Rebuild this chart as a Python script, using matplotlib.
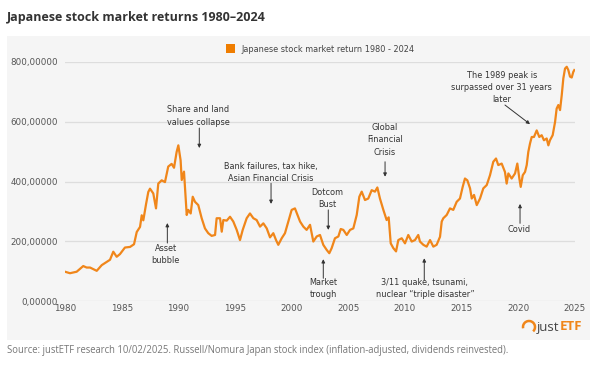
import matplotlib.pyplot as plt
import matplotlib.patches as mpatches
from matplotlib.ticker import FuncFormatter

# Japanese stock market returns
years = [1980.00, 1980.44, 1981.03, 1981.61, 1981.91, 1982.21, 1982.80, 1983.24, 1983.68, 1983.97,
         1984.26, 1984.56, 1984.85, 1985.29, 1985.74, 1986.09, 1986.33, 1986.62, 1986.77, 1986.91,
         1987.15, 1987.35, 1987.50, 1987.79, 1988.03, 1988.23, 1988.53, 1988.82, 1989.11, 1989.41,
         1989.62, 1989.85, 1990.00, 1990.20, 1990.30, 1990.50, 1990.74, 1990.88, 1991.09, 1991.27,
         1991.47, 1991.76, 1992.06, 1992.35, 1992.64, 1992.94, 1993.24, 1993.38, 1993.68, 1993.83,
         1993.97, 1994.27, 1994.56, 1994.85, 1995.15, 1995.44, 1995.68, 1996.03, 1996.32, 1996.62,
         1996.91, 1997.21, 1997.50, 1997.80, 1998.09, 1998.38, 1998.62, 1998.82, 1999.12, 1999.41,
         1999.70, 2000.00, 2000.29, 2000.74, 2001.03, 2001.32, 2001.62, 2001.91, 2002.21, 2002.50,
         2002.79, 2003.09, 2003.32, 2003.53, 2003.82, 2004.12, 2004.33, 2004.56, 2004.86, 2005.15,
         2005.44, 2005.74, 2005.97, 2006.18, 2006.47, 2006.76, 2007.06, 2007.35, 2007.56, 2007.79,
         2008.09, 2008.38, 2008.56, 2008.74, 2008.97, 2009.21, 2009.41, 2009.71, 2010.00, 2010.29,
         2010.59, 2010.88, 2011.17, 2011.32, 2011.62, 2011.91, 2012.21, 2012.50, 2012.79, 2013.09,
         2013.24, 2013.38, 2013.68, 2013.97, 2014.26, 2014.56, 2014.85, 2015.09, 2015.29, 2015.50,
         2015.74, 2015.89, 2016.09, 2016.33, 2016.62, 2016.91, 2017.21, 2017.50, 2017.79, 2018.03,
         2018.23, 2018.53, 2018.82, 2018.97, 2019.12, 2019.41, 2019.71, 2019.91, 2020.09, 2020.21,
         2020.39, 2020.59, 2020.74, 2020.88, 2021.03, 2021.18, 2021.38, 2021.62, 2021.85, 2022.06,
         2022.26, 2022.50, 2022.65, 2022.79, 2023.03, 2023.24, 2023.38, 2023.53, 2023.68, 2023.83,
         2023.97, 2024.12, 2024.27, 2024.41, 2024.56, 2024.71, 2024.85, 2024.94]
values = [98, 93, 98, 117, 112, 112, 101, 120, 131, 138,
          165, 148, 157, 179, 181, 190, 231, 248, 287, 270,
          324, 365, 376, 360, 310, 393, 404, 398, 450, 459,
          446, 499, 521, 471, 405, 433, 288, 305, 293, 349,
          332, 321, 277, 243, 227, 218, 221, 277, 277, 232,
          271, 269, 282, 266, 238, 204, 238, 277, 293, 277,
          271, 249, 260, 243, 213, 227, 204, 188, 210, 227,
          266, 305, 310, 266, 249, 238, 255, 199, 216, 221,
          188, 171, 160, 177, 210, 216, 241, 238, 221, 238,
          243, 288, 349, 366, 338, 343, 371, 366, 380, 343,
          305, 271, 280, 193, 177, 166, 204, 210, 193, 221,
          199, 204, 221, 199, 188, 182, 204, 182, 188, 215,
          266, 277, 288, 310, 305, 332, 343, 382, 410, 404,
          377, 343, 355, 321, 343, 377, 388, 421, 466, 477,
          455, 460, 432, 393, 427, 410, 427, 460, 410, 382,
          421, 432, 455, 499, 527, 549, 549, 571, 549, 555,
          538, 544, 521, 538, 555, 599, 644, 656, 639, 689,
          745, 778, 784, 773, 751, 748, 767, 773]

yticks = [0, 200, 400, 600, 800]
xticks = [1980, 1985, 1990, 1995, 2000, 2005, 2010, 2015, 2020, 2025]

# annotations: text, text position, arrow tail, arrow head
notes = [
    ("Share and land\nvalues collapse", (1991.74, 619), (1991.85, 579), (1991.85, 512)),
    ("Asset\nbubble", (1988.89, 157), (1989.03, 194), (1989.03, 261)),
    ("Bank failures, tax hike,\nAsian Financial Crisis", (1998.18, 430), (1998.18, 394), (1998.18, 325)),
    ("Dotcom\nBust", (2003.18, 342), (2003.23, 305), (2003.23, 238)),
    ("Market\ntrough", (2002.79, 41), (2002.79, 76), (2002.79, 140)),
    ("Global\nFinancial\nCrisis", (2008.24, 539), (2008.24, 466), (2008.24, 416)),
    ("3/11 quake, tsunami,\nnuclear \u201ctriple disaster\u201d", (2011.76, 41), (2011.70, 70), (2011.70, 143)),
    ("Covid", (2020.09, 241), (2020.15, 260), (2020.15, 325)),
    ("The 1989 peak is\nsurpassed over 31 years\nlater", (2018.53, 715), (2018.82, 656), (2021.03, 592)),
]

orange = '#f0861a'
W, H = 600, 366

fig = plt.figure(figsize=(6, 3.66), dpi=100)

# grey panel behind the chart
fig.patches.append(mpatches.Rectangle((7 / W, 1 - 340 / H), 583 / W, 304 / H,
                                      transform=fig.transFigure, facecolor='#f5f5f5',
                                      edgecolor='none', zorder=-10))

ax = fig.add_axes([65 / W, 1 - 301 / H, 510 / W, 239 / H])
ax.set_zorder(2)
ax.set_facecolor('none')
ax.plot(years, values, color=orange, lw=1.6, zorder=3)

ax.set_xlim(1980, 2025)
ax.set_ylim(0, 800)
ax.set_xticks(xticks)
ax.set_yticks(yticks)
ax.yaxis.set_major_formatter(FuncFormatter(lambda v, p: f"{v:.0f},00000"))
ax.grid(axis='y', color='#dddddd', lw=0.9, zorder=1)
ax.tick_params(length=0, labelsize=6.3, labelcolor='#555555')
ax.tick_params(axis='y', pad=5)
ax.tick_params(axis='x', pad=2)
for s in ax.spines.values():
    s.set_visible(False)

for txt, pos, tail, head in notes:
    ax.text(pos[0], pos[1], txt, ha='center', va='center', fontsize=5.9,
            color='#333333', linespacing=1.45, zorder=4)
    ax.annotate('', xy=head, xytext=tail,
                arrowprops=dict(arrowstyle='-|>', color='#333333', lw=0.7,
                                mutation_scale=5, shrinkA=0, shrinkB=0))

# title, legend, source
fig.text(7 / W, 1 - 17 / H, 'Japanese stock market returns 1980\u20132024', fontsize=9,
         fontweight='bold', color='#333333', family='Open Sans', va='center')
fig.patches.append(mpatches.Rectangle((226 / W, 1 - 53 / H), 9 / W, 9 / H,
                                      transform=fig.transFigure, facecolor='#ef7d00',
                                      edgecolor='none', zorder=2))
fig.text(241 / W, 1 - 49 / H, 'Japanese stock market return 1980 - 2024', fontsize=5.9,
         color='#444444', va='center')
fig.text(7 / W, 1 - 351 / H,
         'Source: justETF research 10/02/2025. Russell/Nomura Japan stock index '
         '(inflation-adjusted, dividends reinvested).',
         fontsize=6.85, color='#777777', family='Open Sans', va='center')

# justETF logo
fig.patches.append(mpatches.Arc((529 / W, 1 - 327 / H), 12 / W, 12 / H, theta1=-60, theta2=200,
                                transform=fig.transFigure, color=orange, lw=1.8, zorder=2))
fig.text(537 / W, 1 - 327 / H, 'just', fontsize=9.5, color='#444444', va='center',
         family='Open Sans')
fig.text(560 / W, 1 - 327 / H, 'ETF', fontsize=9.5, color=orange, va='center',
         fontweight='bold', family='Open Sans')

fig.savefig('out.png', dpi=100)
